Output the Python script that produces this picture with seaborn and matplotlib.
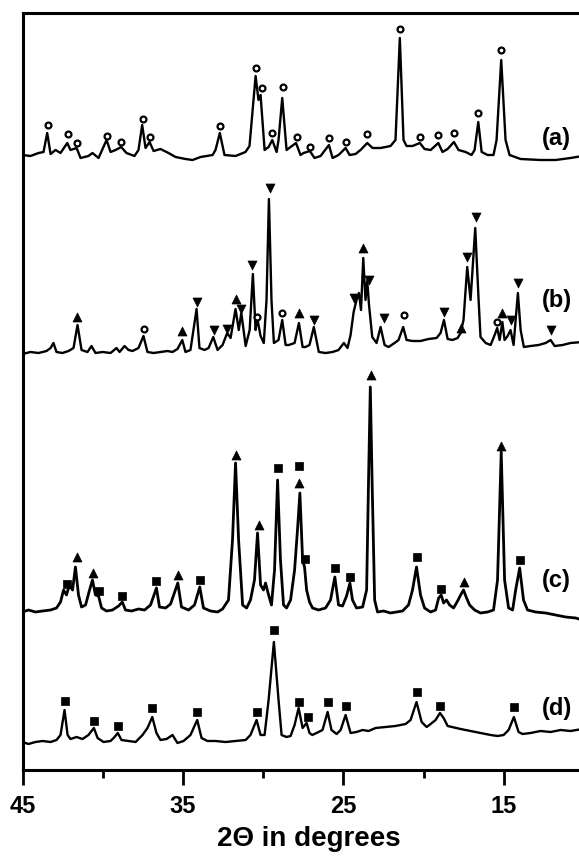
import matplotlib
matplotlib.use("Agg")
import matplotlib.pyplot as plt
import seaborn as sns

# X-ray powder patterns (a)-(d), intensities in a.u., already stacked
tt_a = [45.00, 44.50, 44.00, 43.69, 43.46, 43.25, 42.94, 42.63, 42.21, 42.01, 41.63, 41.38, 40.89, 40.64, 40.26, 39.76,
        39.51, 39.20, 38.85, 38.52, 38.02, 37.77, 37.54, 37.33, 37.08, 36.83, 36.40, 35.90, 35.46, 34.84, 34.40, 33.90,
        33.15, 32.97, 32.70, 32.41, 31.72, 31.10, 30.85, 30.47, 30.29, 30.16, 29.91, 29.66, 29.43, 29.16, 29.04, 28.81,
        28.54, 28.29, 27.95, 27.67, 27.48, 27.09, 26.80, 26.42, 25.90, 25.67, 25.30, 24.86, 24.61, 24.24, 23.93, 23.51,
        23.18, 22.68, 22.06, 21.75, 21.48, 21.25, 21.06, 20.69, 20.23, 19.94, 19.56, 19.08, 18.82, 18.50, 18.11, 17.82,
        17.38, 17.01, 16.82, 16.59, 16.38, 16.01, 15.64, 15.45, 15.16, 14.89, 14.64, 13.95, 12.71, 11.77, 10.84, 10.09]
int_a = [615, 614, 617, 618, 637, 616, 620, 617, 627, 620, 622, 612, 614, 617, 612, 630,
         618, 620, 623, 617, 614, 620, 645, 622, 628, 619, 621, 617, 613, 611, 610, 613,
         615, 620, 637, 615, 614, 618, 624, 694, 670, 675, 620, 623, 630, 618, 630, 672,
         620, 623, 627, 615, 617, 619, 612, 614, 625, 612, 615, 622, 615, 616, 620, 627,
         622, 622, 624, 630, 732, 630, 624, 624, 627, 621, 620, 627, 618, 621, 628, 620,
         618, 615, 620, 648, 618, 615, 615, 630, 710, 630, 615, 611, 610, 610, 612, 614]

tt_b = [45.00, 44.50, 44.00, 43.50, 43.25, 43.07, 42.88, 42.51, 42.13, 41.82, 41.57, 41.32, 40.95, 40.70, 40.45, 40.01,
        39.51, 39.14, 38.95, 38.64, 38.39, 38.14, 37.77, 37.46, 37.21, 36.83, 36.40, 35.96, 35.65, 35.34, 35.04, 34.84,
        34.53, 34.15, 33.97, 33.65, 33.40, 33.11, 32.84, 32.53, 32.24, 32.03, 31.72, 31.52, 31.36, 31.09, 30.84, 30.64,
        30.47, 30.37, 30.16, 29.96, 29.79, 29.64, 29.48, 29.33, 29.04, 28.81, 28.60, 28.40, 28.04, 27.77, 27.54, 27.36,
        27.11, 26.84, 26.53, 26.11, 25.67, 25.30, 24.97, 24.74, 24.55, 24.36, 24.18, 24.03, 23.90, 23.76, 23.62, 23.51,
        23.40, 23.20, 22.93, 22.68, 22.43, 22.18, 21.81, 21.56, 21.27, 21.06, 20.69, 20.19, 19.69, 19.19, 18.94, 18.73,
        18.50, 18.19, 17.88, 17.69, 17.51, 17.28, 17.07, 16.78, 16.57, 16.45, 16.13, 15.82, 15.57, 15.41, 15.26, 15.09,
        14.95, 14.76, 14.58, 14.39, 14.26, 14.12, 13.95, 13.75, 13.33, 12.83, 12.39, 12.08, 11.83, 11.33, 10.84, 10.09]
int_b = [416, 418, 417, 419, 422, 427, 418, 417, 419, 422, 445, 420, 418, 424, 417, 418,
         417, 422, 418, 424, 420, 419, 422, 434, 418, 417, 418, 419, 418, 421, 430, 418,
         420, 461, 422, 420, 422, 433, 420, 425, 437, 432, 461, 440, 457, 424, 440, 496,
         440, 452, 434, 427, 470, 571, 470, 427, 430, 450, 425, 425, 427, 447, 423, 423,
         425, 443, 418, 417, 418, 420, 427, 422, 435, 458, 470, 477, 460, 512, 470, 489,
         465, 433, 427, 443, 425, 423, 427, 430, 443, 430, 429, 429, 431, 432, 437, 450,
         431, 430, 432, 437, 450, 503, 470, 542, 470, 433, 427, 425, 435, 442, 430, 448,
         430, 434, 440, 425, 450, 477, 440, 423, 424, 425, 427, 430, 424, 425, 427, 428]

tt_c = [45.00, 44.63, 44.19, 43.75, 43.25, 42.88, 42.63, 42.44, 42.26, 42.07, 41.88, 41.70, 41.51, 41.32, 41.07, 40.82,
        40.64, 40.45, 40.26, 40.07, 39.76, 39.39, 39.01, 38.78, 38.58, 38.20, 37.77, 37.39, 37.02, 36.65, 36.46, 36.08,
        35.77, 35.32, 35.09, 34.65, 34.28, 33.95, 33.72, 33.28, 32.84, 32.53, 32.16, 31.91, 31.72, 31.53, 31.28, 31.03,
        30.79, 30.54, 30.35, 30.16, 29.98, 29.85, 29.66, 29.48, 29.29, 29.10, 28.92, 28.73, 28.54, 28.29, 28.04, 27.86,
        27.71, 27.54, 27.42, 27.29, 27.11, 26.92, 26.55, 26.11, 25.80, 25.53, 25.30, 25.05, 24.80, 24.59, 24.43, 24.18,
        23.80, 23.55, 23.43, 23.32, 23.21, 23.05, 22.87, 22.49, 22.06, 21.68, 21.31, 20.94, 20.69, 20.44, 20.19, 19.94,
        19.56, 19.25, 19.06, 18.90, 18.75, 18.57, 18.38, 18.13, 17.88, 17.69, 17.51, 17.32, 17.13, 16.82, 16.45, 16.01,
        15.64, 15.39, 15.16, 14.95, 14.70, 14.45, 14.26, 14.01, 13.77, 13.52, 13.02, 12.39, 11.77, 11.15, 10.52, 10.09]
int_c = [158, 160, 158, 159, 160, 162, 168, 180, 175, 185, 180, 203, 175, 163, 165, 180,
         190, 175, 174, 162, 159, 160, 164, 168, 160, 159, 161, 160, 165, 182, 163, 162,
         166, 187, 163, 160, 165, 183, 162, 159, 158, 161, 170, 230, 307, 230, 165, 162,
         170, 190, 237, 185, 180, 187, 175, 165, 200, 290, 210, 165, 162, 170, 200, 240,
         277, 210, 203, 180, 168, 162, 160, 162, 170, 193, 165, 164, 174, 187, 170, 162,
         163, 180, 290, 383, 290, 170, 158, 159, 157, 158, 159, 165, 180, 203, 175, 162,
         158, 160, 172, 175, 167, 170, 165, 162, 169, 175, 180, 172, 165, 160, 157, 158,
         160, 190, 318, 190, 162, 160, 180, 202, 170, 160, 158, 157, 155, 153, 152, 150]

tt_d = [45.00, 44.63, 44.19, 43.75, 43.25, 42.88, 42.63, 42.38, 42.19, 42.01, 41.63, 41.26, 40.89, 40.55, 40.32, 39.95,
        39.51, 39.26, 39.06, 38.83, 38.39, 37.95, 37.52, 37.21, 36.91, 36.65, 36.40, 36.02, 35.65, 35.34, 34.96, 34.53,
        34.11, 33.84, 33.47, 32.97, 32.34, 31.72, 31.09, 30.79, 30.41, 30.16, 29.91, 29.66, 29.33, 29.04, 28.85, 28.54,
        28.29, 28.04, 27.79, 27.54, 27.29, 27.11, 26.94, 26.67, 26.30, 25.98, 25.74, 25.42, 25.17, 24.86, 24.55, 24.18,
        23.80, 23.43, 22.99, 22.37, 21.75, 21.12, 20.81, 20.44, 20.12, 19.81, 19.56, 19.25, 18.98, 18.75, 18.50, 17.69,
        16.76, 15.82, 15.39, 15.01, 14.70, 14.37, 14.08, 13.83, 13.33, 12.71, 12.08, 11.46, 10.84, 10.09]
int_d = [28, 26, 28, 29, 28, 30, 35, 60, 35, 31, 33, 31, 35, 42, 32, 28,
         29, 33, 37, 30, 29, 28, 35, 42, 53, 37, 30, 31, 35, 27, 29, 35,
         50, 32, 29, 29, 28, 29, 30, 35, 50, 35, 35, 70, 128, 70, 35, 33,
         34, 45, 62, 42, 47, 37, 35, 37, 40, 58, 40, 36, 40, 55, 37, 38,
         40, 39, 42, 43, 44, 46, 50, 68, 48, 43, 46, 50, 57, 52, 44, 41,
         38, 35, 34, 35, 40, 53, 38, 36, 37, 39, 38, 40, 39, 41]

# phase markers above reflections
a_circ_tt = [43.44, 42.19, 41.63, 39.76, 38.83, 37.52, 37.08, 32.72, 30.47, 30.06, 29.43, 28.79,
             27.92, 27.09, 25.90, 24.86, 23.51, 21.48, 20.23, 19.08, 18.11, 16.59, 15.16]
a_circ_h = [645, 636, 627, 634, 628, 651, 633, 644, 702, 682, 637, 683,
            633, 623, 632, 628, 636, 741, 633, 635, 637, 657, 720]

b_up_tt = [41.63, 35.04, 31.72, 27.77, 23.76, 17.69, 15.09]
b_up_h = [453, 439, 471, 457, 522, 442, 457]
b_down_tt = [34.11, 33.07, 32.24, 31.36, 30.68, 29.58, 26.84, 24.35, 23.41, 22.47, 18.73, 17.32,
             16.76, 14.58, 14.12, 12.08]
b_down_h = [468, 440, 441, 461, 505, 582, 450, 472, 490, 452, 458, 513, 553, 450, 487, 440]
b_circ_tt = [37.44, 30.37, 28.81, 21.23, 15.41]
b_circ_h = [441, 453, 457, 455, 448]

c_up_tt = [41.59, 40.59, 35.32, 31.72, 30.27, 27.76, 23.30, 17.51, 15.16]
c_up_h = [213, 197, 195, 315, 245, 287, 395, 188, 324]
c_sq_tt = [42.21, 40.24, 38.78, 36.65, 33.95, 29.07, 27.76, 27.42, 25.53, 24.59, 20.44, 18.90, 14.01]
c_sq_h = [186, 179, 174, 189, 190, 302, 304, 211, 202, 193, 213, 181, 210]

d_sq_tt = [42.38, 40.55, 39.06, 36.91, 34.11, 30.41, 29.33, 27.78, 27.21, 25.95, 24.86, 20.44, 18.98, 14.37]
d_sq_h = [69, 49, 44, 62, 58, 58, 140, 68, 53, 68, 64, 78, 64, 63]

labels = ['(a)', '(b)', '(c)', '(d)']
label_h = [631, 470, 190, 62]

# Style
sns.set_theme(style="ticks")
plt.rcParams['font.family'] = ['Liberation Sans', 'DejaVu Sans']
plt.rcParams['font.weight'] = 'bold'
plt.rcParams['text.color'] = 'black'
plt.rcParams['axes.labelcolor'] = 'black'
plt.rcParams['xtick.color'] = 'black'
plt.rcParams['ytick.color'] = 'black'

fig = plt.figure(figsize=(5.79, 8.66), dpi=100)
ax = fig.add_axes([22.5 / 579, 1 - 770 / 866, (584 - 22.5) / 579, (770 - 13) / 866])

# patterns
for tt, inten, lw in [(tt_a, int_a, 1.7), (tt_b, int_b, 1.7), (tt_c, int_c, 2.0), (tt_d, int_d, 1.7)]:
    sns.lineplot(x=tt, y=inten, ax=ax, color='black', linewidth=lw, sort=False, estimator=None)

# markers: open circles, down / up triangles, squares
for tt, h in [(a_circ_tt, a_circ_h), (b_circ_tt, b_circ_h)]:
    sns.scatterplot(x=tt, y=h, ax=ax, marker='o', s=18, color='white', edgecolor='black', linewidth=1.6, zorder=3)
for tt, h in [(b_up_tt, b_up_h), (c_up_tt, c_up_h)]:
    sns.scatterplot(x=tt, y=h, ax=ax, marker='^', s=42, color='black', edgecolor='black', linewidth=0.5, zorder=3)
sns.scatterplot(x=b_down_tt, y=b_down_h, ax=ax, marker='v', s=42, color='black', edgecolor='black',
                linewidth=0.5, zorder=3)
for tt, h in [(c_sq_tt, c_sq_h), (d_sq_tt, d_sq_h)]:
    sns.scatterplot(x=tt, y=h, ax=ax, marker='s', s=38, color='black', edgecolor='black', linewidth=0.5, zorder=3)

for lab, h in zip(labels, label_h):
    ax.text(11.7, h, lab, fontsize=17, fontweight='bold', ha='center', va='center', color='black')

ax.set_xlim(45, 10)
ax.set_ylim(0, 757)
ax.set_yticks([])
ax.set_xticks([45, 35, 25, 15])
ax.set_xticks([40, 30, 20], minor=True)
ax.tick_params(axis='x', which='major', direction='out', length=11, width=2, labelsize=17, pad=7,
               color='black', labelcolor='black')
ax.tick_params(axis='x', which='minor', direction='out', length=6, width=2, color='black')
for side in ['left', 'top', 'bottom']:
    ax.spines[side].set_linewidth(2.2)
    ax.spines[side].set_color('black')
ax.spines['right'].set_visible(False)

ax.set_xlabel('2Θ in degrees', fontsize=20, fontweight='bold', labelpad=6, color='black')
ax.xaxis.label.set_x(0.51)

fig.savefig('out.png', dpi=100)
